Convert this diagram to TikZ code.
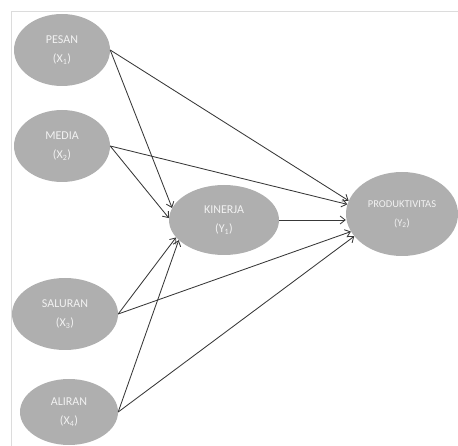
\documentclass[tikz,border=0pt]{standalone}
\usepackage{fontspec}
\setmainfont{Carlito}
\usetikzlibrary{shapes.geometric,arrows.meta}
\definecolor{ovalgray}{HTML}{AFAFAF}
\definecolor{textgray}{HTML}{F2F2F2}
\definecolor{linegray}{HTML}{383838}
\definecolor{framegray}{HTML}{DCDCDC}
\begin{document}
\begin{tikzpicture}
    [
    x=1pt,y=-1pt,
    latent/.style={ellipse,fill=ovalgray,text=textgray,inner sep=0pt,align=center,font=\fontsize{12}{19}\selectfont},
    arrow/.style={draw=linegray,line width=0.85pt,-{Straight Barb[length=5pt,width=8pt]}}
    ]
    \useasboundingbox (0,0) rectangle (458,446);
    \draw [framegray] (458,11) -- (11,11) -- (11,446);

    \node (pesan) at (62,50) [latent,minimum width=96pt,minimum height=72pt] {PESAN\\(X\textsubscript{1})};
    \node (media) at (62,146) [latent,minimum width=96pt,minimum height=72pt] {MEDIA\\(X\textsubscript{2})};
    \node (saluran) at (65,314) [latent,minimum width=106pt,minimum height=72pt] {SALURAN\\(X\textsubscript{3})};
    \node (aliran) at (69,412) [latent,minimum width=98pt,minimum height=66pt] {ALIRAN\\(X\textsubscript{4})};
    \node (kinerja) at (224,220) [latent,minimum width=110pt,minimum height=70pt] {KINERJA\\(Y\textsubscript{1})};
    \node (produktivitas) at (402,214) [latent,minimum width=112pt,minimum height=84pt,font=\fontsize{10.5}{19}\selectfont] {PRODUKTIVITAS\\(Y\textsubscript{2})};

    \draw [arrow] (pesan.east) to (kinerja.167);
    \draw [arrow] (pesan.east) to (produktivitas.166);
    \draw [arrow] (media.east) to (kinerja.178);
    \draw [arrow] (media.east) to (produktivitas.170);
    \draw [arrow] (kinerja.east) to (kinerja.east -| produktivitas.west);
    \draw [arrow] (saluran.east) to (kinerja.200);
    \draw [arrow] (saluran.east) to (produktivitas.199);
    \draw [arrow] (aliran.east) to (kinerja.204);
    \draw [arrow] (aliran.east) to (produktivitas.205);
  \end{tikzpicture}
\end{document}
